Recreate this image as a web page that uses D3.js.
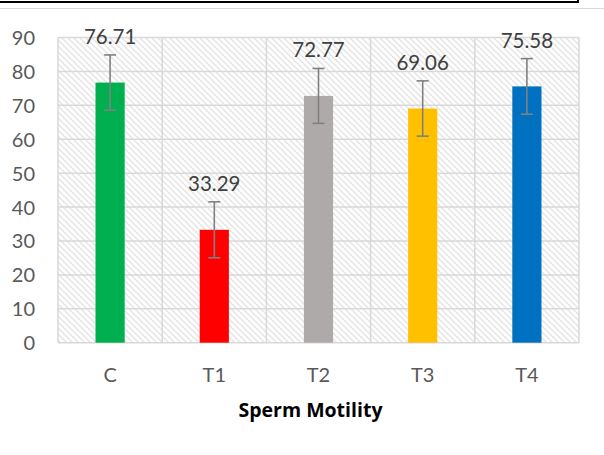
<!DOCTYPE html>
<html>
<head>
<meta charset="utf-8">
<script src="https://cdn.jsdelivr.net/npm/d3@7"></script>
<style>
  body { margin: 0; background: #fff; }
  svg { display: block; font-family: Lato, "Open Sans", sans-serif; }
</style>
</head>
<body>
<div id="chart"></div>
<script>
// data
var groups = ["C", "T1", "T2", "T3", "T4"];
var motility = [76.71, 33.29, 72.77, 69.06, 75.58];
var errors = [8.15, 8.25, 8.1, 8.15, 8.2];
var barColors = ["#00b050", "#ff0000", "#aeaaaa", "#ffc000", "#0070c0"];
var yTicks = [0, 10, 20, 30, 40, 50, 60, 70, 80, 90];

var svgWidth = 604;
var svgHeight = 455;

var plot = { left: 58, right: 579, top: 37.5, bottom: 342.7 };

var svg = d3.select("#chart")
    .append("svg")
    .attr("width", svgWidth)
    .attr("height", svgHeight);

// hatch pattern behind the plot
var defs = svg.append("defs");
var pat = defs.append("pattern")
    .attr("id", "hatch")
    .attr("patternUnits", "userSpaceOnUse")
    .attr("width", 6)
    .attr("height", 6);
pat.append("rect").attr("width", 6).attr("height", 6).attr("fill", "#fff");
pat.append("path")
    .attr("d", "M-1,-1 L7,7 M-4,2 L2,8 M4,-2 L10,4")
    .attr("stroke", "#e4e4e4")
    .attr("stroke-width", 1.4);

// frame of the page above the chart
svg.append("rect")
    .attr("x", -5).attr("y", -20)
    .attr("width", 583).attr("height", 22)
    .attr("fill", "none")
    .attr("stroke", "#000")
    .attr("stroke-width", 2);

svg.append("line")
    .attr("x1", 0).attr("x2", svgWidth)
    .attr("y1", 8.5).attr("y2", 8.5)
    .attr("stroke", "#d9d9d9")
    .attr("stroke-width", 1);

var x = d3.scaleBand()
    .domain(groups)
    .range([plot.left, plot.right]);

var y = d3.scaleLinear()
    .domain([0, 90])
    .range([plot.bottom, plot.top]);

svg.append("rect")
    .attr("x", plot.left).attr("y", plot.top)
    .attr("width", plot.right - plot.left)
    .attr("height", plot.bottom - plot.top)
    .attr("fill", "url(#hatch)");

// gridlines
svg.append("g")
    .selectAll("line")
    .data(yTicks)
    .enter()
    .append("line")
    .attr("x1", plot.left).attr("x2", plot.right)
    .attr("y1", d => y(d)).attr("y2", d => y(d))
    .attr("stroke", "#d9d9d9")
    .attr("stroke-width", 1.5);

svg.append("g")
    .selectAll("line")
    .data(groups.concat(["end"]))
    .enter()
    .append("line")
    .attr("x1", (d, i) => plot.left + i * x.bandwidth())
    .attr("x2", (d, i) => plot.left + i * x.bandwidth())
    .attr("y1", plot.top).attr("y2", plot.bottom)
    .attr("stroke", "#d9d9d9")
    .attr("stroke-width", 1.5);

// y axis labels
var leftAxis = d3.axisLeft(y).tickValues(yTicks).tickSize(0).tickPadding(0);
var yAxis = svg.append("g")
    .attr("transform", "translate(35,0)")
    .call(leftAxis);
yAxis.select(".domain").remove();
yAxis.selectAll("text")
    .attr("font-family", "Lato, 'Open Sans', sans-serif")
    .attr("font-size", 20)
    .attr("fill", "#595959")
    .attr("dy", "0.35em");

// x axis labels
var bottomAxis = d3.axisBottom(x).tickSize(0).tickPadding(0);
var xAxis = svg.append("g")
    .attr("transform", "translate(0,382)")
    .call(bottomAxis);
xAxis.select(".domain").remove();
xAxis.selectAll("text")
    .attr("font-family", "Lato, 'Open Sans', sans-serif")
    .attr("font-size", 20)
    .attr("fill", "#595959")
    .attr("dy", 0);

// bars
var barW = x.bandwidth() * 0.28;
var rows = groups.map((g, i) => ({ g: g, v: motility[i], e: errors[i], c: barColors[i] }));

svg.append("g")
    .selectAll("rect")
    .data(rows)
    .enter()
    .append("rect")
    .attr("x", d => x(d.g) + x.bandwidth() / 2 - barW / 2)
    .attr("width", barW)
    .attr("y", d => y(d.v))
    .attr("height", d => y(0) - y(d.v))
    .attr("fill", d => d.c);

// error bars
var err = svg.append("g")
    .attr("stroke", "#808080")
    .attr("stroke-width", 1.6);
rows.forEach(d => {
    var cx = x(d.g) + x.bandwidth() / 2;
    err.append("line")
        .attr("x1", cx).attr("x2", cx)
        .attr("y1", y(d.v + d.e)).attr("y2", y(d.v - d.e));
    [d.v + d.e, d.v - d.e].forEach(v => {
        err.append("line")
            .attr("x1", cx - 6).attr("x2", cx + 6)
            .attr("y1", y(v)).attr("y2", y(v));
    });
});

// value labels
svg.append("g")
    .selectAll("text")
    .data(rows)
    .enter()
    .append("text")
    .attr("x", d => x(d.g) + x.bandwidth() / 2)
    .attr("y", d => y(d.v) - 38.5)
    .attr("text-anchor", "middle")
    .attr("font-size", 20.5)
    .attr("fill", "#404040")
    .text(d => d.v.toFixed(2));

// axis title
svg.append("text")
    .attr("x", 310.5)
    .attr("y", 417)
    .attr("text-anchor", "middle")
    .attr("font-family", "'Open Sans', Lato, sans-serif")
    .attr("font-size", 19.5)
    .attr("font-weight", "bold")
    .attr("fill", "#000")
    .text("Sperm Motility");
</script>
</body>
</html>
